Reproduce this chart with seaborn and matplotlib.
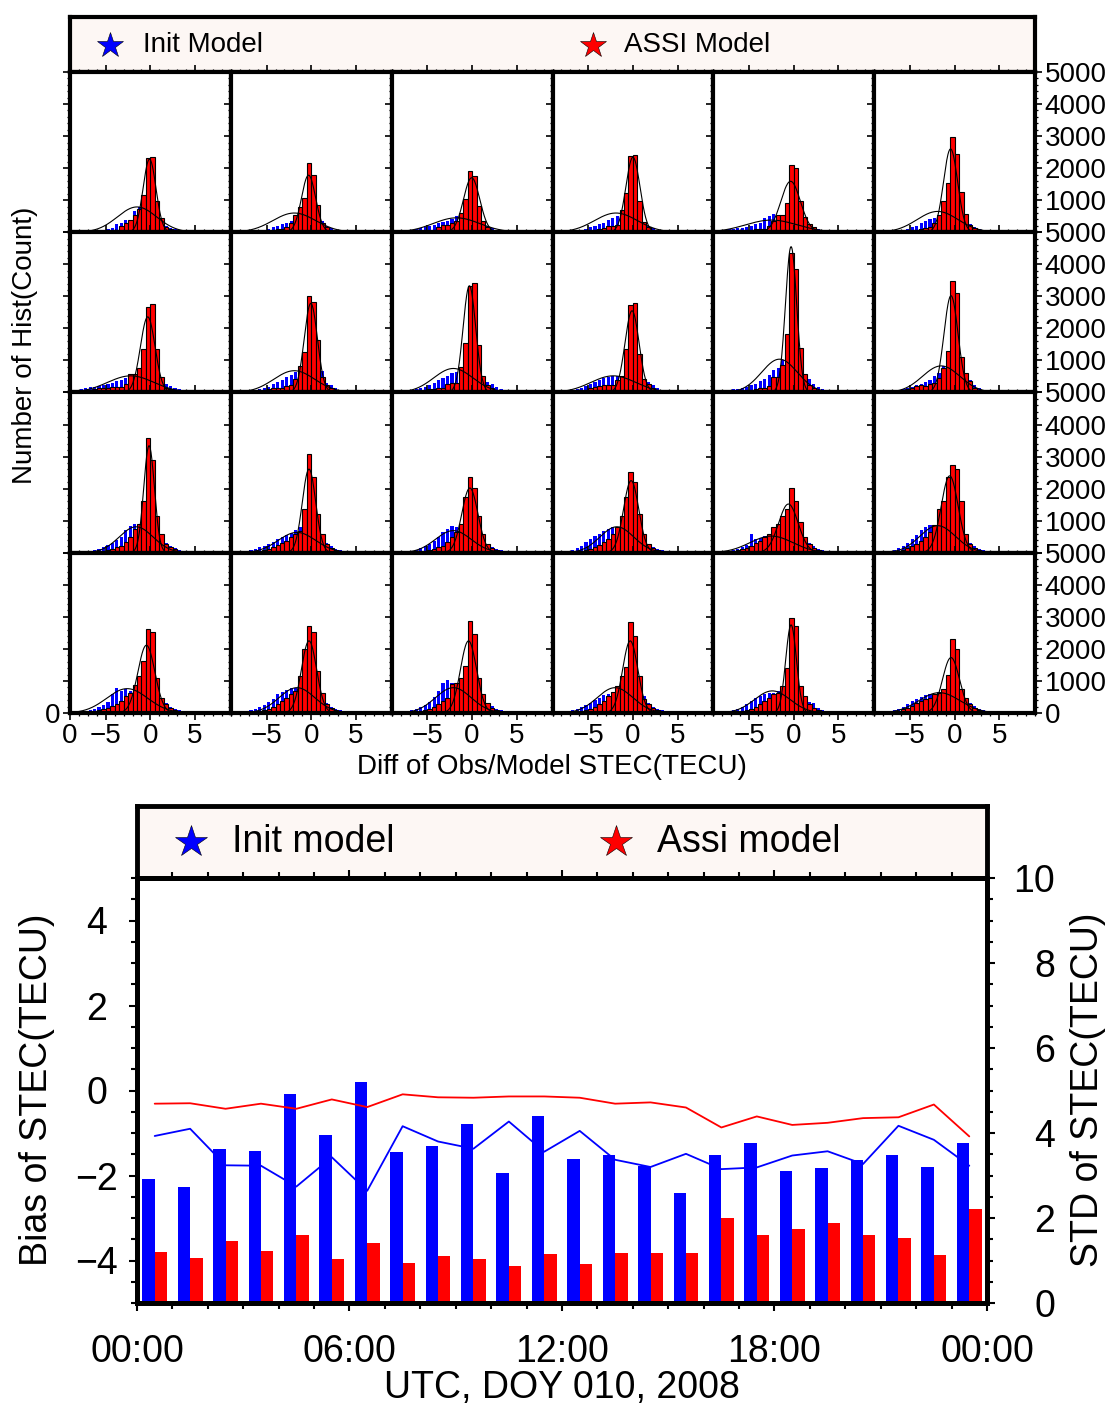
import numpy as np
import pandas as pd
import matplotlib
matplotlib.use("Agg")
import matplotlib.pyplot as plt
from matplotlib.ticker import MultipleLocator, FixedLocator, FuncFormatter
import seaborn as sns

sns.set_theme(style="white")
plt.rcParams["font.family"] = ["Liberation Sans", "DejaVu Sans"]
plt.rcParams["axes.unicode_minus"] = True
plt.rcParams.update({"text.color": "black", "axes.labelcolor": "black",
                     "xtick.color": "black", "ytick.color": "black"})

# ---------------------------------------------------------------------------
# Histogram data: 24 hourly panels, bins of 0.5 TECU, left edges -8 ... 4.5
# ---------------------------------------------------------------------------
bin_lo, bin_hi, bin_w = -8.0, 5.0, 0.5

init_counts = [
    [30,30,40,40,50,60,90,140,250,300,380,380,650,780,700,700,600,450,300,180,140,100,80,60,40,20],
    [20,30,40,50,60,80,100,150,200,250,300,350,420,500,560,560,500,400,340,200,120,80,50,30,20,10],
    [40,60,80,100,130,160,200,240,280,320,360,400,520,540,450,440,420,380,330,200,120,80,50,30,20,10],
    [20,30,40,60,80,100,150,200,250,300,380,450,520,560,580,560,500,400,300,180,120,80,50,30,20,10],
    [80,100,110,120,140,160,200,250,300,450,520,570,500,450,420,380,330,280,230,200,160,110,70,50,30,15],
    [30,40,50,60,80,100,150,200,300,350,400,450,550,650,700,650,550,450,350,250,150,90,50,30,20,10],
    [100,130,160,180,200,220,250,300,360,400,450,520,560,600,620,600,560,480,400,260,200,140,100,60,40,20],
    [30,40,60,80,100,130,180,260,330,400,480,560,650,730,760,750,700,680,680,300,220,150,90,50,30,15],
    [40,60,80,100,130,170,230,300,380,450,520,600,650,700,750,740,700,600,480,330,250,170,110,60,40,15],
    [40,60,80,110,150,200,250,320,380,440,480,500,520,530,520,500,470,430,400,330,220,140,90,60,30,15],
    [60,80,100,120,150,180,220,280,360,420,560,700,780,1010,1000,950,850,700,560,420,250,160,100,60,30,15],
    [30,40,60,80,100,130,170,220,280,330,400,500,620,820,850,800,700,580,460,400,230,140,90,50,30,15],
    [30,40,60,90,120,170,230,300,400,500,700,850,900,880,850,800,700,550,430,300,200,140,90,50,30,15],
    [30,50,80,120,170,220,280,350,420,500,560,620,700,790,750,700,620,500,400,300,200,130,80,50,30,15],
    [30,50,70,100,150,200,280,380,500,640,750,840,800,780,720,650,560,460,360,280,180,120,80,50,30,15],
    [40,60,100,150,220,320,430,520,600,680,740,790,800,780,730,660,560,460,360,280,190,120,80,50,30,15],
    [40,60,90,130,170,250,580,420,450,520,600,650,700,700,680,640,580,500,400,300,200,130,80,50,30,15],
    [40,60,90,140,200,300,420,550,700,800,880,850,820,800,750,680,600,500,400,300,200,130,80,50,30,15],
    [40,60,90,130,180,250,350,600,790,700,750,700,720,740,720,680,600,500,400,300,200,130,80,50,30,15],
    [30,50,80,120,180,260,350,450,580,650,720,790,790,760,720,680,600,500,400,300,200,130,80,50,30,15],
    [30,50,80,120,180,250,350,500,700,950,1020,950,900,850,780,700,620,520,420,320,210,130,80,50,30,15],
    [30,50,80,120,180,250,320,400,480,550,580,650,700,720,700,660,600,500,530,300,200,130,80,50,30,15],
    [30,50,80,130,200,280,380,480,530,580,620,635,680,700,690,650,590,500,420,330,300,150,80,50,30,15],
    [40,60,90,140,200,280,375,430,500,560,580,600,650,660,650,620,570,490,400,310,220,140,90,50,30,15],
]

assi_counts = [
    [0,0,0,10,20,30,40,50,60,200,290,380,540,730,1150,2320,2340,960,450,160,100,50,20,10,0,0],
    [0,0,0,0,10,20,30,80,115,115,160,290,550,780,1070,2160,1780,860,290,160,80,30,10,0,0,0],
    [0,0,0,0,10,20,40,70,160,220,240,290,365,590,1050,1900,1740,820,365,160,80,30,10,0,0,0],
    [0,0,0,0,10,20,40,70,115,135,210,190,220,680,1240,2375,2400,970,320,160,80,30,10,0,0,0],
    [10,20,30,40,50,60,80,100,115,115,190,345,550,550,900,2090,2010,990,470,260,160,80,40,20,10,0],
    [0,0,0,10,20,30,50,80,115,135,160,290,530,970,1530,2970,2430,1260,570,240,135,70,30,10,0,0],
    [20,40,60,100,130,150,155,170,180,180,280,570,570,750,1350,2680,2760,1350,470,155,100,50,20,10,0,0],
    [0,10,20,40,60,80,100,130,150,155,190,240,420,830,1270,3020,2830,1650,470,230,155,60,20,10,0,0],
    [0,10,20,30,50,70,100,120,150,155,260,310,310,800,1530,3320,3420,1470,520,240,135,60,20,10,0,0],
    [0,10,20,40,60,90,130,160,200,240,240,240,385,520,1350,2740,2780,1200,430,260,135,60,20,10,0,0],
    [0,0,10,20,40,60,80,120,150,155,210,470,490,850,1840,4340,3850,1390,570,240,135,60,20,10,0,0],
    [0,10,20,40,60,100,150,200,240,210,260,310,440,750,1300,3470,3100,1110,620,365,155,60,20,10,0,0],
    [10,10,20,30,40,60,90,120,170,220,320,480,740,900,1625,3580,2900,1160,580,270,170,115,60,30,10,0],
    [0,10,20,30,50,80,120,170,230,300,375,480,580,690,1365,3080,2350,1200,580,270,150,80,40,20,10,0],
    [0,10,20,30,40,60,80,120,170,220,320,480,640,900,1730,2350,2020,1160,580,270,150,80,40,20,10,0],
    [0,10,20,30,50,80,120,180,250,330,430,580,790,1160,1730,2510,2220,1210,580,270,150,80,40,20,10,0],
    [20,30,50,80,110,160,220,300,375,480,580,790,900,1160,1365,2020,1625,950,480,270,150,80,40,20,10,0],
    [10,20,40,70,100,140,200,280,375,480,635,875,1365,1625,2375,2750,2615,1625,600,270,150,80,40,20,10,0],
    [10,20,30,50,80,120,170,220,270,375,530,635,875,1160,1625,2615,2530,1100,480,270,150,80,40,20,10,0],
    [0,10,20,40,70,100,140,200,270,375,480,580,690,1160,1990,2720,2540,1300,635,270,150,80,40,20,10,0],
    [0,10,20,40,70,100,140,200,270,375,480,900,950,1100,1470,2865,2480,1100,580,320,150,80,40,20,10,0],
    [0,10,20,40,70,100,140,200,270,375,530,670,845,1160,1440,2850,2400,1160,450,270,150,80,40,20,10,0],
    [0,10,20,40,70,100,140,200,270,375,480,580,635,845,1400,2960,2720,845,530,270,150,80,40,20,10,0],
    [10,20,40,70,110,160,220,320,375,430,480,580,635,740,1200,2300,1990,740,480,270,150,80,40,20,10,0],
]

# Fitted normal curves per panel: centre, width and peak height (counts)
assi_fit_mu = [-0.10,-0.30,-0.05,0.00,-0.35,-0.45, -0.30,-0.05,-0.30,-0.10,-0.30,-0.40,
               -0.15,-0.25,-0.25,-0.20,-0.60,-0.55, -0.45,-0.25,-0.40,-0.30,-0.30,-0.40]
assi_fit_sigma = [0.72,0.79,0.91,0.79,1.10,0.79, 0.82,0.74,0.71,0.79,0.63,0.79,
                  0.60,0.75,0.90,0.85,1.10,0.95, 0.95,0.85,0.90,0.85,0.60,0.95]
assi_fit_peak = [2280,1780,1700,2340,1590,2600, 2360,2780,3330,2550,4550,3020,
                 3340,2610,2020,2250,1520,2400, 2115,2250,2250,2250,2750,1730]
init_fit_mu = [-1.5,-1.9,-1.75,-1.9,-2.5,-1.9, -2.2,-1.9,-2.1,-2.2,-1.6,-1.5,
               -1.6,-1.6,-2.1,-1.8,-2.5,-1.9, -2.6,-1.6,-2.1,-2.0,-2.4,-1.7]
init_fit_sigma = [2.2,2.4,2.6,2.4,2.9,2.3, 2.6,2.3,2.2,2.5,2.0,2.1,
                  1.9,2.1,2.0,1.9,2.4,2.0, 2.3,2.0,2.0,2.0,2.0,2.3]
init_fit_peak = [790,600,450,600,380,650, 520,680,750,520,1040,830,
                 810,635,690,810,520,845, 760,790,790,790,690,635]

# ---------------------------------------------------------------------------
# Hourly statistics for the time-series panel
# ---------------------------------------------------------------------------
hours = np.arange(24)
init_std = [2.91,2.74,3.62,3.57,4.92,3.95,5.20,3.55,3.69,4.21,3.05,4.40,
            3.38,3.48,3.22,2.60,3.48,3.76,3.10,3.17,3.36,3.48,3.19,3.76]
assi_std = [1.20,1.06,1.47,1.23,1.60,1.03,1.41,0.94,1.11,1.04,0.87,1.16,
            0.92,1.18,1.18,1.18,1.99,1.59,1.74,1.88,1.59,1.54,1.13,2.22]
init_bias = [-1.07,-0.90,-1.76,-1.77,-2.26,-1.57,-2.36,-0.84,-1.20,-1.37,-0.73,-1.44,
             -0.95,-1.63,-1.80,-1.49,-1.85,-1.81,-1.53,-1.43,-1.73,-0.83,-1.16,-1.77]
assi_bias = [-0.31,-0.30,-0.43,-0.31,-0.43,-0.21,-0.39,-0.09,-0.16,-0.17,-0.14,-0.14,
             -0.17,-0.31,-0.28,-0.40,-0.87,-0.61,-0.81,-0.76,-0.65,-0.63,-0.33,-1.08]
time_ticks = ["00:00", "06:00", "12:00", "18:00", "00:00"]

BLUE = "#0000ff"
RED = "#ff0000"
LEG_BG = "#fdf7f4"

W, H = 1110, 1407
fig = plt.figure(figsize=(W / 100, H / 100), dpi=100)


def box(x0, y0, x1, y1):
    return [x0 / W, 1 - y1 / H, (x1 - x0) / W, (y1 - y0) / H]


def legend_box(rect, items, fs, ms, lw):
    lax = fig.add_axes(rect)
    lax.set_facecolor(LEG_BG)
    lax.set_xlim(0, 1)
    lax.set_ylim(0, 1)
    lax.set_xticks([])
    lax.set_yticks([])
    for s in lax.spines.values():
        s.set_linewidth(lw)
        s.set_color("black")
    for xs, xt, col, label in items:
        lax.plot([xs], [0.5], marker="*", ms=ms, color=col, mec="black", mew=0.4)
        lax.text(xt, 0.5, label, fontsize=fs, va="center", ha="left", color="black")
    return lax


def signed(v, p):
    return f"{v:.0f}".replace("-", "\u2212")


# ---------------------------- histogram grid --------------------------------
top_fs = 20
legend_box(box(70, 17, 1035, 72),
           [(0.041, 0.0757, BLUE, "Init Model"), (0.542, 0.574, RED, "ASSI Model")],
           fs=top_fs, ms=19, lw=3)

centers = np.arange(bin_lo, bin_hi, bin_w) + bin_w / 2
xs = np.linspace(-9, 9, 400)
gx0, gx1, gy0, gy1 = 70, 1035, 72, 713
cw = (gx1 - gx0) / 6
rh = (gy1 - gy0) / 4

for k in range(24):
    r, c = divmod(k, 6)
    ax = fig.add_axes(box(gx0 + c * cw, gy0 + r * rh, gx0 + (c + 1) * cw, gy0 + (r + 1) * rh))
    hist_df = pd.DataFrame({"diff": centers, "init": init_counts[k], "assi": assi_counts[k]})
    sns.histplot(data=hist_df, x="diff", weights="init", binwidth=bin_w,
                 binrange=(bin_lo, bin_hi), shrink=0.7,
                 color=BLUE, alpha=1, linewidth=0, ax=ax)
    sns.histplot(data=hist_df, x="diff", weights="assi", binwidth=bin_w,
                 binrange=(bin_lo, bin_hi),
                 color=RED, alpha=1, edgecolor="black", linewidth=0.8, ax=ax)
    g_init = init_fit_peak[k] * np.exp(-0.5 * ((xs - init_fit_mu[k]) / init_fit_sigma[k]) ** 2)
    g_assi = assi_fit_peak[k] * np.exp(-0.5 * ((xs - assi_fit_mu[k]) / assi_fit_sigma[k]) ** 2)
    sns.lineplot(x=xs, y=g_init, color="black", linewidth=0.8, ax=ax)
    sns.lineplot(x=xs, y=g_assi, color="black", linewidth=0.8, ax=ax)

    ax.set_xlim(-9, 9)
    ax.set_ylim(0, 5000)
    ax.set_xlabel("")
    ax.set_ylabel("")
    ax.xaxis.set_major_locator(MultipleLocator(5))
    ax.xaxis.set_minor_locator(MultipleLocator(1))
    ax.yaxis.set_major_locator(MultipleLocator(1000))
    ax.yaxis.set_minor_locator(MultipleLocator(200))
    for s in ax.spines.values():
        s.set_linewidth(3)
        s.set_color("black")
    ax.tick_params(which="both", direction="out", top=True, bottom=True, left=True, right=True,
                   labelbottom=False, labelleft=False, labeltop=False, labelright=False,
                   color="black", width=1.2)
    ax.tick_params(which="major", length=5, labelsize=top_fs, pad=2)
    ax.tick_params(which="minor", length=2.5, width=0.9)

    if r == 3:
        ax.tick_params(labelbottom=True)
        if c == 0:
            ax.xaxis.set_major_locator(FixedLocator([-9, -5, 0, 5]))
            ax.xaxis.set_major_formatter(FuncFormatter(lambda v, p: "0" if v < -8 else signed(v, p)))
            ax.tick_params(labelleft=True)
            ax.yaxis.set_major_formatter(FuncFormatter(lambda v, p: "0" if v == 0 else ""))
        else:
            ax.xaxis.set_major_formatter(FuncFormatter(signed))
    if c == 5:
        ax.tick_params(labelright=True)
        if r < 3:
            ax.yaxis.set_major_formatter(FuncFormatter(lambda v, p: "" if v == 0 else f"{v:.0f}"))
        else:
            ax.yaxis.set_major_formatter(FuncFormatter(lambda v, p: f"{v:.0f}"))

fig.text(25 / W, 1 - 345 / H, "Number of Hist(Count)", rotation=90, ha="center", va="center",
         fontsize=top_fs)
fig.text(552 / W, 1 - 767 / H, "Diff of Obs/Model STEC(TECU)", ha="center", va="center",
         fontsize=top_fs)

# ---------------------------- hourly statistics ------------------------------
big_fs = 27
legend_box(box(137, 806, 987, 878),
           [(0.0635, 0.112, BLUE, "Init model"), (0.5635, 0.612, RED, "Assi model")],
           fs=big_fs, ms=24, lw=3.5)

ax = fig.add_axes(box(137, 878, 987, 1303))
ax2 = ax.twinx()

std_df = pd.DataFrame({
    "hour": np.concatenate([hours + 0.5, hours + 0.5]),
    "std": np.concatenate([init_std, assi_std]),
    "model": ["Init"] * 24 + ["Assi"] * 24,
})
sns.histplot(data=std_df, x="hour", weights="std", hue="model", multiple="dodge",
             binwidth=1, binrange=(0, 24), shrink=0.7, palette={"Init": BLUE, "Assi": RED},
             alpha=1, linewidth=0, legend=False, ax=ax2)
sns.lineplot(x=hours + 0.5, y=init_bias, color=BLUE, linewidth=1.3, ax=ax)
sns.lineplot(x=hours + 0.5, y=assi_bias, color=RED, linewidth=1.3, ax=ax)

ax.set_zorder(ax2.get_zorder() + 1)
ax.patch.set_visible(False)

ax.set_xlim(0, 24)
ax.set_ylim(-5, 5)
ax2.set_ylim(0, 10)
ax.set_xlabel("")
ax.set_ylabel("")
ax2.set_xlabel("")
ax2.set_ylabel("")
ax.xaxis.set_major_locator(FixedLocator([0, 6, 12, 18, 24]))
ax.set_xticklabels(time_ticks)
ax.xaxis.set_minor_locator(MultipleLocator(1))
ax.yaxis.set_major_locator(FixedLocator([-4, -2, 0, 2, 4]))
ax.yaxis.set_major_formatter(FuncFormatter(signed))
ax.yaxis.set_minor_locator(MultipleLocator(0.5))
ax2.yaxis.set_major_locator(FixedLocator([0, 2, 4, 6, 8, 10]))
ax2.yaxis.set_major_formatter(FuncFormatter(lambda v, p: f"{v:.0f}"))
ax2.yaxis.set_minor_locator(MultipleLocator(0.5))

ax.tick_params(which="both", direction="out", top=True, bottom=True, left=True, right=False,
               color="black", width=1.5)
ax.tick_params(which="major", length=6, labelsize=big_fs)
ax.tick_params(which="minor", length=4)
ax.tick_params(axis="x", which="major", pad=16)
ax.tick_params(axis="y", which="major", pad=23)
ax2.tick_params(which="both", direction="out", right=True, color="black", width=1.5)
ax2.tick_params(which="major", length=6, labelsize=big_fs, pad=43)
ax2.tick_params(which="minor", length=4)
for lab in ax.get_yticklabels():
    lab.set_horizontalalignment("center")
for lab in ax2.get_yticklabels():
    lab.set_horizontalalignment("right")
for a in (ax, ax2):
    for s in a.spines.values():
        s.set_linewidth(3.5)
        s.set_color("black")

fig.text(37 / W, 1 - 1090 / H, "Bias of STEC(TECU)", rotation=90, ha="center", va="center",
         fontsize=big_fs)
fig.text(1088 / W, 1 - 1090 / H, "STD of STEC(TECU)", rotation=90, ha="center", va="center",
         fontsize=big_fs)
fig.text(562 / W, 1 - 1388 / H, "UTC, DOY 010, 2008", ha="center", va="center", fontsize=big_fs)

fig.savefig("out.png", dpi=100, facecolor="white")
